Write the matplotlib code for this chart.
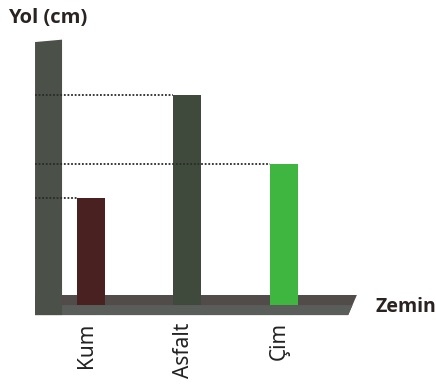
import matplotlib
matplotlib.use("Agg")
import matplotlib.pyplot as plt
from matplotlib.patches import Polygon

categories = ["Kum", "Asfalt", "Çim"]
values = [3, 6, 4]
bar_colors = ["#4a2121", "#3f4a3c", "#3fb63f"]
y_label = "Yol (cm)"
x_label = "Zemin"

fig = plt.figure(figsize=(4.36, 3.84), dpi=100)
ax = fig.add_axes([0, 0, 1, 1])
ax.set_xlim(-0.938, 3.580)
ax.set_ylim(-2.42, 8.776)
ax.axis("off")

x = list(range(len(categories)))
bw = 0.29
sink = 0.12

# floor (x axis)
floor_top, floor_bot = 0.175, -0.41
x0, x1 = -0.575, 2.76
floor = Polygon([(x0, floor_bot), (x0, floor_top), (x1, floor_top), (x1 - 0.09, floor_bot)],
                closed=True, facecolor="#514b49", edgecolor="none", zorder=2)
ax.add_patch(floor)
floor2 = Polygon([(x0, floor_bot), (x0, -0.12), (x1 - 0.045, -0.12), (x1 - 0.09, floor_bot)],
                 closed=True, facecolor="#5a5e5a", edgecolor="none", zorder=2)
ax.add_patch(floor2)

# y axis post
post = Polygon([(-0.575, floor_bot), (-0.575, 7.55), (-0.295, 7.62), (-0.295, floor_bot)],
               closed=True, facecolor="#4b5048", edgecolor="none", zorder=3)
ax.add_patch(post)

# bars
ax.bar(x, [v + sink for v in values], bottom=-sink, width=bw, color=bar_colors, zorder=4)

# dotted guide lines
for xi, v in zip(x, values):
    ax.plot([-0.575, xi - bw / 2], [v, v], linestyle=(0, (1, 1)), color="#2a2a2a",
            linewidth=1.3, zorder=5)

# labels
ax.text(-0.86, 8.25, y_label, fontsize=14.5, fontweight="bold", family="Open Sans",
        color="#2b2222", ha="left", va="center")
ax.text(2.95, -0.17, x_label, fontsize=14, fontweight="bold", family="Open Sans",
        color="#2b2222", ha="left", va="center")
for xi, c in zip(x, categories):
    ax.text(xi - 0.04, -0.62, c, rotation=90, fontsize=15, family="Noto Sans",
            color="#222222", ha="center", va="top")

fig.savefig("out.png", dpi=100)
